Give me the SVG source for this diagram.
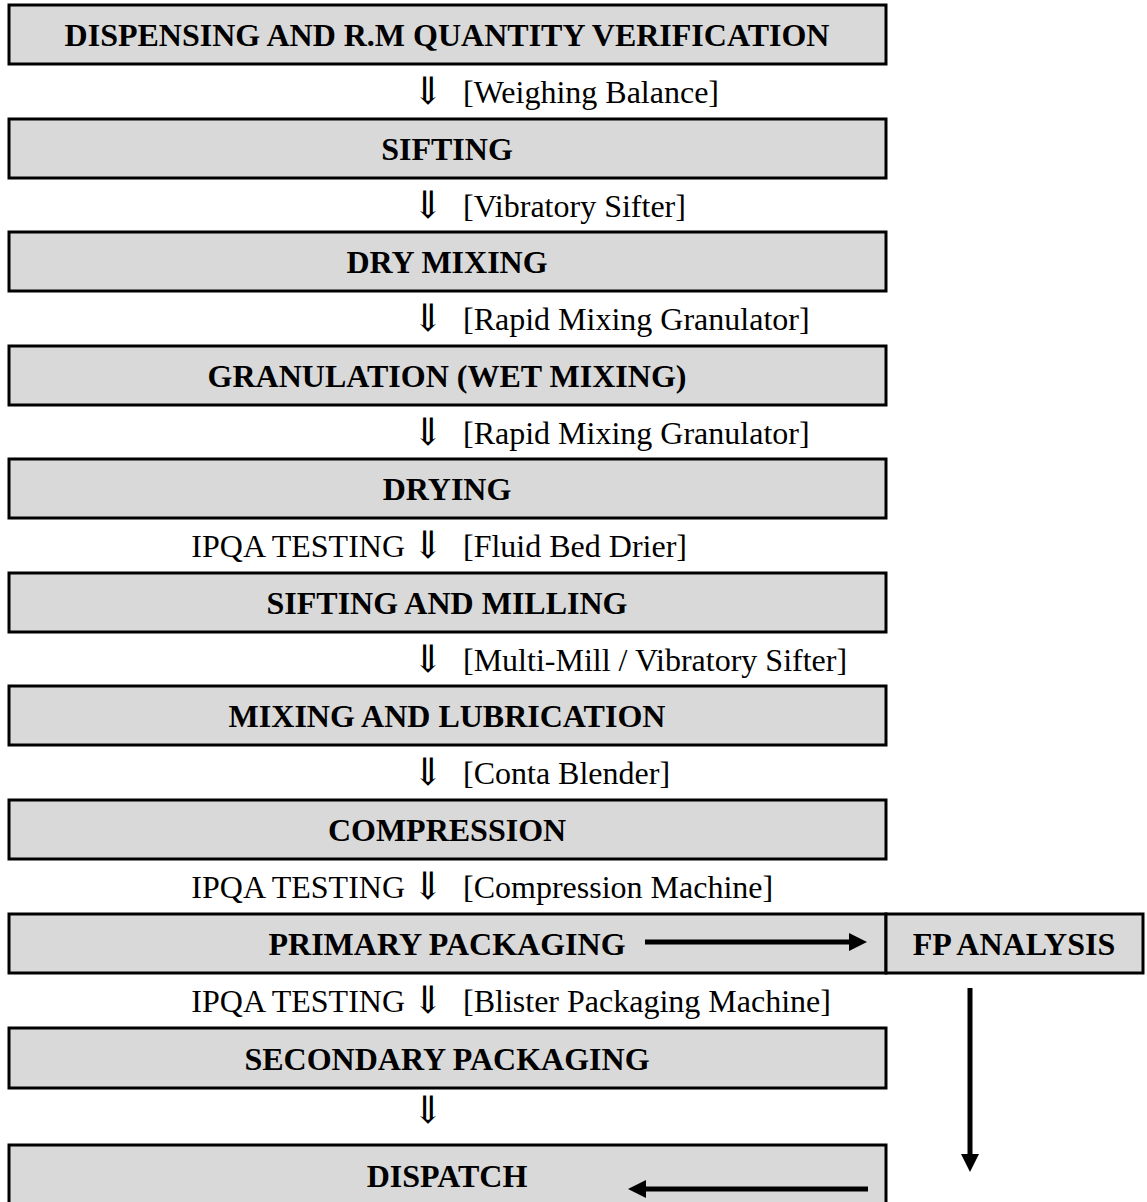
<svg xmlns="http://www.w3.org/2000/svg" width="1147" height="1202" viewBox="0 0 1147 1202">
<style>
.box{fill:#d9d9d9;stroke:#000;stroke-width:3}
.title{font-family:"Liberation Serif","Times New Roman",serif;font-weight:bold;font-size:32px;text-anchor:middle;fill:#000}
.lbl{font-family:"Liberation Serif","Times New Roman",serif;font-size:32px;fill:#000}
.arr{font-family:"DejaVu Sans ExtraLight","DejaVu Sans","DejaVu Serif",sans-serif;font-weight:200;font-size:38px;fill:#000}
.conn{stroke:#000;stroke-width:5;fill:none;marker-end:url(#head)}
</style>
<defs>
<marker id="head" viewBox="0 0 18 18" refX="4" refY="9" markerWidth="18" markerHeight="18" markerUnits="userSpaceOnUse" orient="auto">
<path d="M0,0 L18,9 L0,18 z" fill="#000"/>
</marker>
</defs>
<rect x="0" y="0" width="1147" height="1202" fill="#fff"/>
<g id="n1"><rect class="box" x="9" y="5" width="877" height="59"/><text class="title" x="447" y="46">DISPENSING AND R.M QUANTITY VERIFICATION</text></g>
<g id="n2"><rect class="box" x="9" y="119" width="877" height="59"/><text class="title" x="447" y="160">SIFTING</text></g>
<g id="n3"><rect class="box" x="9" y="232" width="877" height="59"/><text class="title" x="447" y="273">DRY MIXING</text></g>
<g id="n4"><rect class="box" x="9" y="346" width="877" height="59"/><text class="title" x="447" y="387">GRANULATION (WET MIXING)</text></g>
<g id="n5"><rect class="box" x="9" y="459" width="877" height="59"/><text class="title" x="447" y="500">DRYING</text></g>
<g id="n6"><rect class="box" x="9" y="573" width="877" height="59"/><text class="title" x="447" y="614">SIFTING AND MILLING</text></g>
<g id="n7"><rect class="box" x="9" y="686" width="877" height="59"/><text class="title" x="447" y="727">MIXING AND LUBRICATION</text></g>
<g id="n8"><rect class="box" x="9" y="800" width="877" height="59"/><text class="title" x="447" y="841">COMPRESSION</text></g>
<g id="n9"><rect class="box" x="9" y="914" width="877" height="59"/><text class="title" x="447" y="955">PRIMARY PACKAGING</text></g>
<g id="n10"><rect class="box" x="886" y="914" width="257" height="59"/><text class="title" x="1014" y="955">FP ANALYSIS</text></g>
<g id="n11"><rect class="box" x="9" y="1028" width="877" height="60"/><text class="title" x="447" y="1070">SECONDARY PACKAGING</text></g>
<g id="n12"><rect class="box" x="9" y="1145" width="877" height="70"/><text class="title" x="447" y="1187">DISPATCH</text></g>
<g id="connectors">
<text class="arr" x="412" y="104">⇓</text><text class="lbl" x="463" y="103">[Weighing Balance]</text>
<text class="arr" x="412" y="218">⇓</text><text class="lbl" x="463" y="217">[Vibratory Sifter]</text>
<text class="arr" x="412" y="331">⇓</text><text class="lbl" x="463" y="330">[Rapid Mixing Granulator]</text>
<text class="arr" x="412" y="445">⇓</text><text class="lbl" x="463" y="444">[Rapid Mixing Granulator]</text>
<text class="lbl" x="405" y="557" text-anchor="end">IPQA TESTING</text><text class="arr" x="412" y="558">⇓</text><text class="lbl" x="463" y="557">[Fluid Bed Drier]</text>
<text class="arr" x="412" y="672">⇓</text><text class="lbl" x="463" y="671">[Multi-Mill / Vibratory Sifter]</text>
<text class="arr" x="412" y="785">⇓</text><text class="lbl" x="463" y="784">[Conta Blender]</text>
<text class="lbl" x="405" y="898" text-anchor="end">IPQA TESTING</text><text class="arr" x="412" y="899">⇓</text><text class="lbl" x="463" y="898">[Compression Machine]</text>
<text class="lbl" x="405" y="1012" text-anchor="end">IPQA TESTING</text><text class="arr" x="412" y="1013">⇓</text><text class="lbl" x="463" y="1012">[Blister Packaging Machine]</text>
<text class="arr" x="412" y="1123">⇓</text>
<line class="conn" x1="645" y1="942" x2="853" y2="942"/>
<line class="conn" x1="970" y1="988" x2="970" y2="1158"/>
<line class="conn" x1="868" y1="1189" x2="642" y2="1189"/>
</g>
</svg>
